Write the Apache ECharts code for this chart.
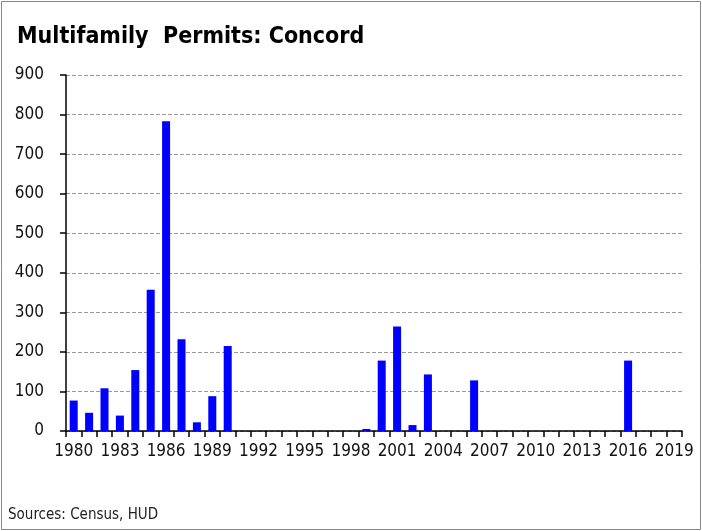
<!DOCTYPE html>
<html>
<head>
<meta charset="utf-8">
<script src="https://cdn.jsdelivr.net/npm/echarts@6/dist/echarts.min.js"></script>
<style>
  html, body { margin: 0; padding: 0; background: #fff; }
  #chart { width: 702px; height: 531px; }
</style>
</head>
<body>
<div id="chart"></div>
<script>
const years = [
  "1980", "1981", "1982", "1983", "1984", "1985", "1986", "1987", "1988", "1989",
  "1990", "1991", "1992", "1993", "1994", "1995", "1996", "1997", "1998", "1999",
  "2000", "2001", "2002", "2003", "2004", "2005", "2006", "2007", "2008", "2009",
  "2010", "2011", "2012", "2013", "2014", "2015", "2016", "2017", "2018", "2019"
];
const permits = [
  77, 46, 108, 39, 154, 357, 783, 232, 22, 88,
  215, 0, 0, 0, 0, 0, 0, 0, 0, 5,
  178, 264, 15, 143, 0, 0, 128, 0, 0, 0,
  0, 0, 0, 0, 0, 0, 178, 0, 0, 0
];
const titleText = "Multifamily  Permits: Concord";
const sourceText = "Sources: Census, HUD";

const font = "'Liberation Sans Narrow', 'Arial Narrow', 'DejaVu Sans Condensed', sans-serif";

const myChart = echarts.init(document.getElementById("chart"));
const option = {
  animation: false,
  backgroundColor: "#fff",
  title: {
    text: titleText,
    left: 12,
    top: 21,
    textStyle: { fontFamily: font, fontWeight: "bold", fontSize: 23, color: "#000" }
  },
  graphic: [
    {
      type: "rect",
      shape: { x: 1.5, y: 1.5, width: 699, height: 528 },
      style: { fill: null, stroke: "#888", lineWidth: 1 },
      silent: true
    },
    {
      type: "text",
      left: 8,
      top: 508,
      style: { text: sourceText, font: "15px " + font, fill: "#222" }
    }
  ],
  grid: { left: 66, right: 20, top: 75, bottom: 100 },
  xAxis: {
    type: "category",
    data: years,
    boundaryGap: true,
    axisLine: { lineStyle: { color: "#000", width: 1.5 } },
    axisTick: { show: true, interval: 0, length: 6, lineStyle: { color: "#000", width: 1.5 } },
    axisLabel: { interval: 2, margin: 12, fontFamily: font, fontSize: 17, color: "#111" },
    splitLine: { show: false }
  },
  yAxis: {
    type: "value",
    min: 0,
    max: 900,
    interval: 100,
    axisLine: { show: true, lineStyle: { color: "#000", width: 1.5 } },
    axisTick: { show: true, length: 6, lineStyle: { color: "#000", width: 1.5 } },
    axisLabel: { margin: 22, fontFamily: font, fontSize: 17, color: "#111" },
    splitLine: { show: true, lineStyle: { color: "#999", type: [4, 2], width: 1.2 } }
  },
  series: [
    {
      type: "bar",
      data: permits,
      barWidth: "52%",
      itemStyle: { color: "#0000ff" }
    }
  ]
};
myChart.setOption(option);
</script>
</body>
</html>
